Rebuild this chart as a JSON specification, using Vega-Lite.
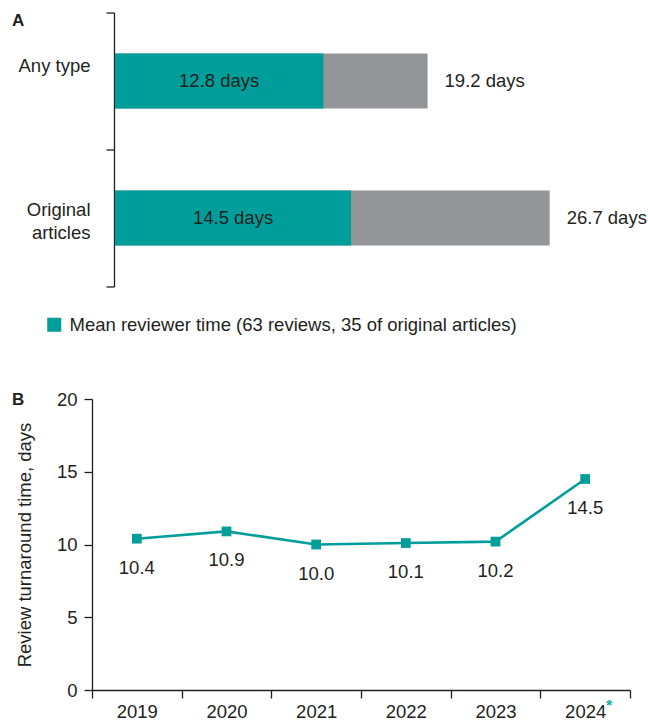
{
  "$schema": "https://vega.github.io/schema/vega-lite/v6.json",
  "background": "white",
  "padding": {"left": 12, "top": 3.5, "right": 5, "bottom": 5},
  "config": {
    "font": "Liberation Sans",
    "view": {"stroke": null},
    "axis": {
      "labelFont": "Liberation Sans",
      "labelFontSize": 18.5,
      "labelColor": "#231f20",
      "titleFont": "Liberation Sans",
      "titleFontSize": 18.5,
      "titleFontWeight": "normal",
      "titleColor": "#231f20",
      "domainColor": "#231f20",
      "tickColor": "#231f20",
      "domainWidth": 1.3,
      "tickWidth": 1.3,
      "tickSize": 8,
      "grid": false
    },
    "legend": {
      "labelFont": "Liberation Sans",
      "labelFontSize": 18.5,
      "labelColor": "#231f20"
    }
  },
  "spacing": 102.5,
  "vconcat": [
    {
      "width": 538,
      "height": 274,
      "title": {"text": "A", "anchor": "start", "frame": "group", "dx": -80, "dy": 26, "offset": 0, "font": "Liberation Sans", "fontSize": 17, "fontWeight": "bold", "color": "#231f20"},
      "data": {
        "values": [
          {"category": "Any type", "mean": 12.8, "total": 19.2, "meanLabel": "12.8 days", "totalLabel": "19.2 days"},
          {"category": "Original|articles", "mean": 14.5, "total": 26.7, "meanLabel": "14.5 days", "totalLabel": "26.7 days"}
        ]
      },
      "resolve": {"scale": {"x": "independent"}},
      "encoding": {
        "y": {
          "field": "category",
          "type": "nominal",
          "sort": null,
          "scale": {"paddingInner": 0, "paddingOuter": 0},
          "axis": {
            "title": null,
            "labelExpr": "split(datum.label, '|')",
            "labelLineHeight": 23,
            "labelOffset": {"condition": {"test": "datum.value === 'Any type'", "value": -16}, "value": -8.5},
            "tickBand": "extent",
            "offset": -22,
            "labelPadding": 16
          }
        }
      },
      "layer": [
        {
          "mark": {"type": "bar", "color": "#939598", "height": {"band": 0.4}},
          "encoding": {
            "x": {
              "field": "total",
              "type": "quantitative",
              "scale": {"domain": [-1.413, 31.634], "nice": false, "zero": false},
              "axis": null
            }
          }
        },
        {
          "mark": {"type": "bar", "height": {"band": 0.4}},
          "encoding": {
            "x": {
              "field": "mean",
              "type": "quantitative",
              "scale": {"domain": [-1.413, 31.634], "nice": false, "zero": false},
              "axis": null
            },
            "color": {
              "datum": "Mean reviewer time (63 reviews, 35 of original articles)",
              "type": "nominal",
              "scale": {"range": ["#009e9b"]},
              "legend": {
                "title": null,
                "orient": "none",
                "legendX": -47,
                "legendY": 303,
                "symbolType": "square",
                "symbolSize": 196,
                "symbolStrokeWidth": 0,
                "labelOffset": 6,
                "labelLimit": 0,
                "padding": 0
              }
            }
          }
        },
        {
          "mark": {"type": "text", "fontSize": 18.5, "color": "#231f20", "baseline": "middle", "align": "center"},
          "encoding": {
            "x": {
              "field": "mean",
              "type": "quantitative",
              "scale": {"domain": [-2.826, 63.268], "nice": false, "zero": false},
              "axis": null
            },
            "text": {"field": "meanLabel"}
          }
        },
        {
          "mark": {"type": "text", "fontSize": 18.5, "color": "#231f20", "baseline": "middle", "align": "left", "dx": 17},
          "encoding": {
            "x": {
              "field": "total",
              "type": "quantitative",
              "scale": {"domain": [-1.413, 31.634], "nice": false, "zero": false},
              "axis": null
            },
            "text": {"field": "totalLabel"}
          }
        }
      ]
    },
    {
      "width": 538,
      "height": 291,
      "title": {"text": "B", "anchor": "start", "frame": "group", "dx": -80, "dy": 19, "offset": 0, "font": "Liberation Sans", "fontSize": 17, "fontWeight": "bold", "color": "#231f20"},
      "data": {
        "values": [
          {"year": "2019", "value": 10.4},
          {"year": "2020", "value": 10.9},
          {"year": "2021", "value": 10.0},
          {"year": "2022", "value": 10.1},
          {"year": "2023", "value": 10.2},
          {"year": "2024", "value": 14.5}
        ]
      },
      "encoding": {
        "x": {
          "field": "year",
          "type": "ordinal",
          "scale": {"type": "band", "paddingInner": 0, "paddingOuter": 0},
          "axis": {"title": null, "labelAngle": 0, "tickBand": "extent", "labelPadding": 4}
        },
        "y": {
          "field": "value",
          "type": "quantitative",
          "scale": {"domain": [0, 20], "nice": false},
          "axis": {"values": [0, 5, 10, 15, 20], "title": "Review turnaround time, days", "labelPadding": 7, "titlePadding": 22}
        }
      },
      "layer": [
        {"mark": {"type": "line", "color": "#009e9b", "strokeWidth": 2.6}},
        {"mark": {"type": "point", "shape": "square", "filled": true, "size": 95, "color": "#009e9b", "opacity": 1}},
        {
          "mark": {"type": "text", "fontSize": 18.5, "color": "#231f20", "baseline": "middle", "dy": 29},
          "encoding": {"text": {"field": "value", "type": "quantitative", "format": ".1f"}}
        },
        {
          "mark": {"type": "text", "fontSize": 15, "color": "#19b5b0", "baseline": "middle", "align": "left", "dx": 21, "text": "*"},
          "encoding": {
            "x": {"datum": "2024"},
            "y": {"datum": -1.0}
          }
        }
      ]
    }
  ]
}
